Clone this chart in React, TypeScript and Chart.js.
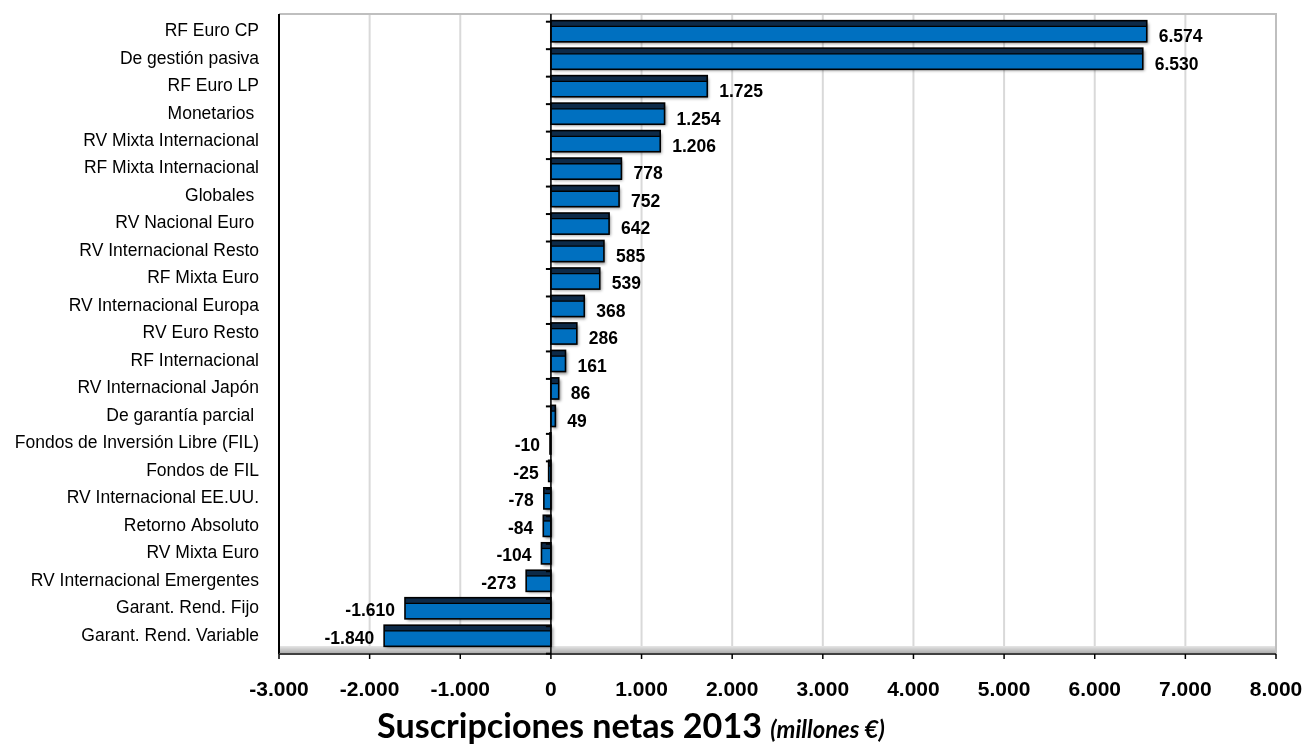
import { useEffect, useRef } from 'react';
import { Chart, registerables } from 'chart.js';

Chart.register(...registerables);

const categories = [
  'RF Euro CP',
  'De gestión pasiva',
  'RF Euro LP',
  'Monetarios ',
  'RV Mixta Internacional',
  'RF Mixta Internacional',
  'Globales ',
  'RV Nacional Euro ',
  'RV Internacional Resto',
  'RF Mixta Euro',
  'RV Internacional Europa',
  'RV Euro Resto',
  'RF Internacional',
  'RV Internacional Japón',
  'De garantía parcial ',
  'Fondos de Inversión Libre (FIL)',
  'Fondos de FIL',
  'RV Internacional EE.UU.',
  'Retorno Absoluto',
  'RV Mixta Euro',
  'RV Internacional Emergentes',
  'Garant. Rend. Fijo',
  'Garant. Rend. Variable',
];

const values = [
  6574, 6530, 1725, 1254, 1206, 778, 752, 642, 585, 539, 368, 286, 161, 86, 49,
  -10, -25, -78, -84, -104, -273, -1610, -1840,
];

const xMin = -3000;
const xMax = 8000;
const xStep = 1000;

const titleMain = 'Suscripciones netas 2013';
const titleUnit = '(millones €)';

const FONT = '"Liberation Sans", Arial, sans-serif';

function fmt(v: number): string {
  const s = Math.abs(v)
    .toString()
    .replace(/\B(?=(\d{3})+(?!\d))/g, '.');
  return (v < 0 ? '-' : '') + s;
}

const framePlugin = {
  id: 'frame',
  beforeDatasetsDraw(chart: any) {
    const { ctx, chartArea } = chart;
    const xs = chart.scales.x;
    const top = chartArea.top - 3.5;
    const bottom = chartArea.bottom + 4.5;
    const left = chartArea.left;
    const right = chartArea.right;
    ctx.save();
    const g = ctx.createLinearGradient(0, bottom - 8, 0, bottom);
    g.addColorStop(0, '#e6e6e6');
    g.addColorStop(1, '#a6a6a6');
    ctx.fillStyle = g;
    ctx.fillRect(left, bottom - 8, right - left, 8);
    ctx.strokeStyle = '#d9d9d9';
    ctx.lineWidth = 2;
    for (let v = xMin; v <= xMax; v += xStep) {
      const px = xs.getPixelForValue(v);
      ctx.beginPath();
      ctx.moveTo(px, top);
      ctx.lineTo(px, bottom - 8);
      ctx.stroke();
    }
    ctx.strokeStyle = '#bfbfbf';
    ctx.lineWidth = 2;
    ctx.beginPath();
    ctx.moveTo(left, top);
    ctx.lineTo(right, top);
    ctx.lineTo(right, bottom);
    ctx.stroke();
    ctx.strokeStyle = '#000';
    ctx.lineWidth = 2;
    ctx.beginPath();
    ctx.moveTo(left, top);
    ctx.lineTo(left, bottom);
    ctx.stroke();
    ctx.strokeStyle = '#404040';
    ctx.lineWidth = 2;
    ctx.beginPath();
    ctx.moveTo(left, bottom);
    ctx.lineTo(right, bottom);
    ctx.stroke();
    ctx.lineWidth = 1.5;
    ctx.strokeStyle = '#000';
    for (let v = xMin; v <= xMax; v += xStep) {
      const px = xs.getPixelForValue(v);
      ctx.beginPath();
      ctx.moveTo(px, bottom);
      ctx.lineTo(px, bottom + 5);
      ctx.stroke();
    }
    ctx.restore();
    ctx.save();
    ctx.shadowColor = 'rgba(0,0,0,0.45)';
    ctx.shadowOffsetX = 2;
    ctx.shadowOffsetY = 2;
    ctx.shadowBlur = 3;
  },
  afterDatasetsDraw(chart: any) {
    const { ctx, chartArea } = chart;
    ctx.restore();
    const meta = chart.getDatasetMeta(0);
    ctx.save();
    meta.data.forEach((el: any) => {
      const p = el.getProps(['x', 'y', 'base', 'height'], true);
      const l = Math.min(p.x, p.base);
      const w = Math.abs(p.x - p.base);
      const t = p.y - p.height / 2;
      const sh = p.height * 0.27;
      ctx.fillStyle = '#0d2a48';
      ctx.fillRect(l, t, w, sh);
      ctx.strokeStyle = '#000';
      ctx.lineWidth = 1.3;
      ctx.beginPath();
      ctx.moveTo(l, t + sh);
      ctx.lineTo(l + w, t + sh);
      ctx.stroke();
      ctx.lineWidth = 1.6;
      ctx.strokeRect(l, t, w, p.height);
    });
    const xs = chart.scales.x;
    const ys = chart.scales.y;
    const x0 = xs.getPixelForValue(0);
    const top = chartArea.top - 3.5;
    const bottom = chartArea.bottom + 4.5;
    ctx.strokeStyle = '#000';
    ctx.lineWidth = 1.5;
    ctx.beginPath();
    ctx.moveTo(x0, top);
    ctx.lineTo(x0, bottom);
    ctx.stroke();
    const n = categories.length;
    const h = (ys.bottom - ys.top) / n;
    ctx.lineWidth = 2;
    for (let k = 0; k <= n; k++) {
      const yy = ys.top + k * h + 4.2;
      ctx.beginPath();
      ctx.moveTo(x0 - 5, yy);
      ctx.lineTo(x0, yy);
      ctx.stroke();
    }
    ctx.fillStyle = '#000';
    ctx.font = `bold 17.5px ${FONT}`;
    ctx.textBaseline = 'middle';
    meta.data.forEach((el: any, i: number) => {
      const v = values[i];
      const p = el.getProps(['x', 'y'], true);
      if (v >= 0) {
        ctx.textAlign = 'left';
        ctx.fillText(fmt(v), p.x + 12, p.y + 6);
      } else {
        ctx.textAlign = 'right';
        ctx.fillText(fmt(v), p.x - 10, p.y + 3);
      }
    });
    ctx.restore();
  },
  afterDraw(chart: any) {
    const { ctx } = chart;
    ctx.save();
    ctx.fillStyle = '#000';
    ctx.textBaseline = 'alphabetic';
    ctx.textAlign = 'left';
    ctx.font = 'bold 40px Lato, "Open Sans", sans-serif';
    const w40 = ctx.measureText(titleMain).width;
    const size = (40 * 385) / w40;
    ctx.font = `bold ${size}px Lato, "Open Sans", sans-serif`;
    const x1 = 377;
    const base = 738;
    ctx.fillText(titleMain, x1, base);
    const w1 = ctx.measureText(titleMain + ' ').width;
    ctx.font = `italic bold ${size * 0.7}px Lato, "Open Sans", sans-serif`;
    ctx.fillText(titleUnit, x1 + w1, base);
    ctx.restore();
  },
};

export default function App() {
  const ref = useRef<HTMLCanvasElement>(null);
  useEffect(() => {
    const canvas = ref.current!;
    const chart = new Chart(canvas, {
      type: 'bar',
      data: {
        labels: categories,
        datasets: [
          {
            data: values,
            backgroundColor: '#0070c0',
            borderColor: '#000',
            borderWidth: 0,
            barPercentage: 0.77,
            categoryPercentage: 1,
          },
        ],
      },
      options: {
        indexAxis: 'y',
        animation: false,
        responsive: false,
        events: [],
        layout: { padding: { top: 17.5, right: 30, left: 0, bottom: 0 } },
        plugins: {
          legend: { display: false },
          tooltip: { enabled: false },
          title: { display: false },
        },
        scales: {
          x: {
            type: 'linear',
            min: xMin,
            max: xMax,
            grid: { display: false },
            border: { display: false },
            ticks: {
              stepSize: xStep,
              padding: 20,
              color: '#000',
              font: { family: FONT, size: 21, weight: 'bold' },
              callback: (v: any) => fmt(Number(v)),
            },
            afterFit: (s: any) => {
              s.height = 94.5;
              s.paddingLeft = 0;
              s.paddingRight = 0;
            },
          },
          y: {
            type: 'category',
            grid: { display: false },
            border: { display: false },
            ticks: {
              autoSkip: false,
              padding: 12,
              color: '#000',
              font: { family: FONT, size: 17.5 },
            },
            afterFit: (s: any) => {
              s.width = 279;
              s.paddingTop = 0;
              s.paddingBottom = 0;
            },
          },
        },
      },
      plugins: [framePlugin],
    });
    return () => chart.destroy();
  }, []);
  return (
    <div
      style={{
        position: 'fixed',
        left: 0,
        top: 0,
        width: 1306,
        height: 744,
        background: '#fff',
      }}
    >
      <canvas ref={ref} width={1306} height={744} style={{ width: 1306, height: 744 }} />
    </div>
  );
}
